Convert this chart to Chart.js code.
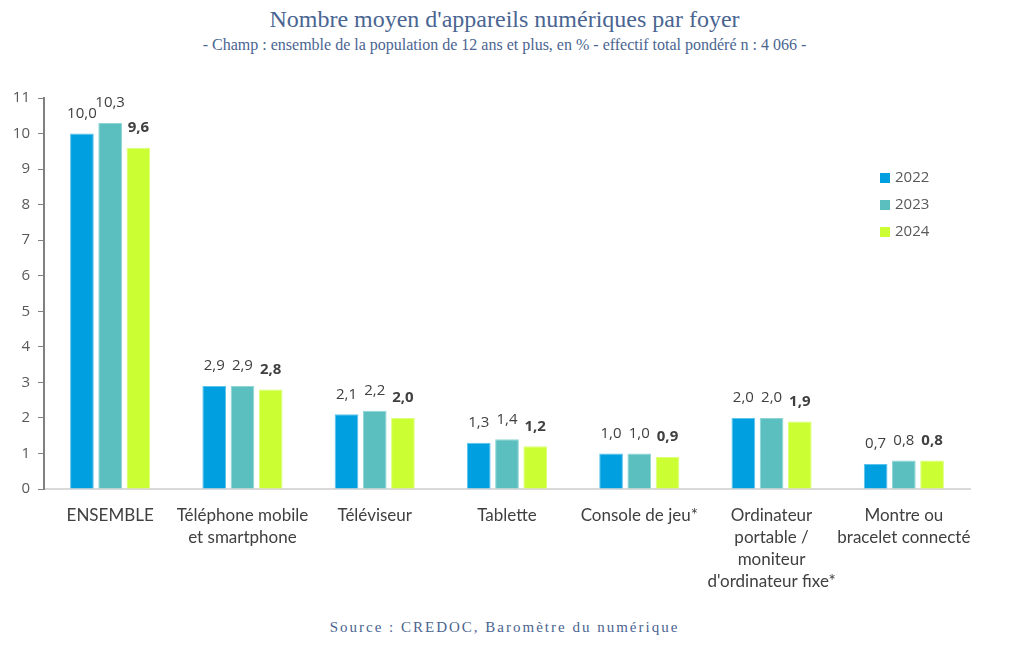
<!DOCTYPE html>
<html>
<head>
<meta charset="utf-8">
<script src="https://cdn.jsdelivr.net/npm/chart.js@4"></script>
<style>
  body { margin: 0; background: #fff; width: 1009px; height: 658px; position: relative; overflow: hidden; }
  .title { position: absolute; top: 6px; left: 0; width: 1009px; text-align: center; font-family: 'Liberation Serif', serif; font-size: 24px; color: #4a6591; }
  .subtitle { position: absolute; top: 36px; left: 0; width: 1009px; text-align: center; font-family: 'Liberation Serif', serif; font-size: 16px; color: #4a6591; }
  .source { position: absolute; top: 619px; left: 0; width: 1009px; text-align: center; font-family: 'Liberation Serif', serif; font-size: 15px; color: #4a6591; letter-spacing: 2px; }
  #wrap { position: absolute; left: 0; top: 80px; width: 1009px; height: 520px; }
</style>
</head>
<body>
<div class="title">Nombre moyen d'appareils numériques par foyer</div>
<div class="subtitle">- Champ : ensemble de la population de 12 ans et plus, en % - effectif total pondéré n : 4 066 -</div>
<div id="wrap"><canvas id="chart"></canvas></div>
<div class="source">Source : CREDOC, Baromètre du numérique</div>

<script>
// Data
const categories = [
  'ENSEMBLE',
  ['Téléphone mobile', 'et smartphone'],
  'Téléviseur',
  'Tablette',
  'Console de jeu*',
  ['Ordinateur', 'portable /', 'moniteur', "d'ordinateur fixe*"],
  ['Montre ou', 'bracelet connecté']
];
const years = ['2022', '2023', '2024'];
const values2022 = [10.0, 2.9, 2.1, 1.3, 1.0, 2.0, 0.7];
const values2023 = [10.3, 2.9, 2.2, 1.4, 1.0, 2.0, 0.8];
const values2024 = [9.6, 2.8, 2.0, 1.2, 0.9, 1.9, 0.8];
const yTicks = [0, 1, 2, 3, 4, 5, 6, 7, 8, 9, 10, 11];

const colors = ['#009fdf', '#5bbfbf', '#ccff33'];
const borders = ['#5cc3ec', '#8fd5d5', '#dcff7a'];

// Value labels above bars (2024 in bold)
const valueLabels = {
  id: 'valueLabels',
  afterDatasetsDraw(chart) {
    const ctx = chart.ctx;
    ctx.save();
    ctx.textAlign = 'center';
    ctx.textBaseline = 'middle';
    ctx.fillStyle = '#404040';
    chart.data.datasets.forEach((ds, i) => {
      const meta = chart.getDatasetMeta(i);
      ctx.font = (i === 2 ? 'bold ' : '') + "15px 'Open Sans'";
      meta.data.forEach((bar, j) => {
        const txt = ds.data[j].toFixed(1).replace('.', ',');
        ctx.fillText(txt, bar.x, bar.y - 20);
      });
    });
    ctx.restore();
  }
};

// Legend drawn inside the plot, at the right
const sideLegend = {
  id: 'sideLegend',
  afterDraw(chart) {
    const ctx = chart.ctx;
    ctx.save();
    ctx.font = "15px 'Open Sans'";
    ctx.textBaseline = 'middle';
    chart.data.datasets.forEach((ds, i) => {
      const y = 98 + i * 27;
      ctx.fillStyle = ds.backgroundColor;
      ctx.fillRect(880, y - 5, 10, 10);
      ctx.fillStyle = '#595959';
      ctx.fillText(ds.label, 895, y);
    });
    ctx.restore();
  }
};

const ctx = document.getElementById('chart');
new Chart(ctx, {
  type: 'bar',
  data: {
    labels: categories,
    datasets: [
      { label: years[0], data: values2022, backgroundColor: colors[0], borderColor: borders[0], borderWidth: 1 },
      { label: years[1], data: values2023, backgroundColor: colors[1], borderColor: borders[1], borderWidth: 1 },
      { label: years[2], data: values2024, backgroundColor: colors[2], borderColor: borders[2], borderWidth: 1 }
    ]
  },
  options: {
    responsive: true,
    maintainAspectRatio: false,
    animation: false,
    datasets: { bar: { categoryPercentage: 0.64, barPercentage: 0.84 } },
    layout: { padding: { top: 18, right: 39, left: 0, bottom: 0 } },
    plugins: { legend: { display: false }, tooltip: { enabled: false } },
    scales: {
      x: {
        grid: { display: false },
        border: { color: '#d9d9d9', width: 2 },
        ticks: { color: '#404040', font: { family: 'Lato', size: 17, lineHeight: 1.28 }, padding: 8, maxRotation: 0, autoSkip: false },
        afterFit(axis) { axis.height = 111; }
      },
      y: {
        min: 0,
        max: 11,
        afterBuildTicks(axis) { axis.ticks = yTicks.map(v => ({ value: v })); },
        grid: { display: true, drawOnChartArea: false, drawTicks: true, tickLength: 6, color: '#808080' },
        border: { color: '#808080', width: 2 },
        ticks: { color: '#595959', font: { family: 'Open Sans', size: 15 }, padding: 8 },
        afterFit(axis) { axis.width = 44; }
      }
    }
  },
  plugins: [valueLabels, sideLegend]
});
</script>
</body>
</html>
